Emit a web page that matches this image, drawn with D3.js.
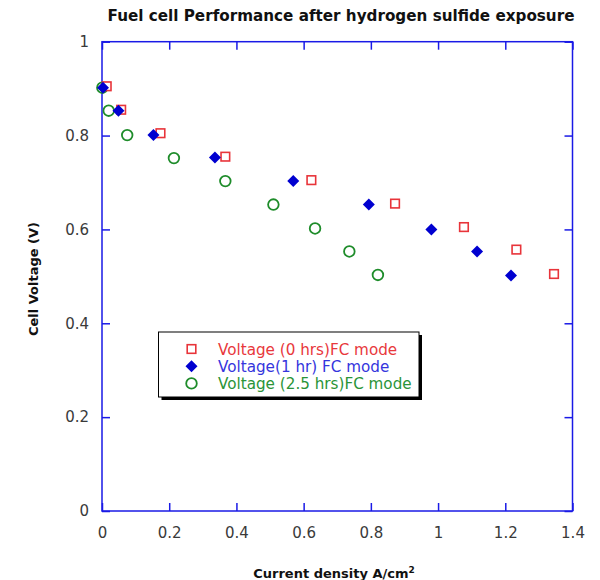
<!DOCTYPE html>
<html>
<head>
<meta charset="utf-8">
<script src="https://cdn.jsdelivr.net/npm/d3@7"></script>
<style>
  html, body { margin: 0; padding: 0; background: #fff; }
  svg { display: block; }
</style>
</head>
<body>
<svg id="chart" width="600" height="580"></svg>
<script>
// Current density (A/cm²) and cell voltage (V) for each exposure time
const current0h  = [0.014, 0.057, 0.174, 0.367, 0.623, 0.872, 1.077, 1.233, 1.345];
const voltage0h  = [0.905, 0.855, 0.805, 0.755, 0.705, 0.655, 0.605, 0.557, 0.505];
const current1h  = [0.003, 0.049, 0.153, 0.336, 0.569, 0.794, 0.980, 1.116, 1.217];
const voltage1h  = [0.902, 0.853, 0.801, 0.753, 0.703, 0.653, 0.600, 0.553, 0.502];
const current25h = [0.001, 0.020, 0.075, 0.214, 0.367, 0.510, 0.634, 0.736, 0.821];
const voltage25h = [0.902, 0.853, 0.801, 0.752, 0.703, 0.653, 0.602, 0.553, 0.503];

const seriesNames = ["Voltage (0 hrs)FC mode", "Voltage(1 hr) FC mode", "Voltage (2.5 hrs)FC mode"];
const xTicks = [0, 0.2, 0.4, 0.6, 0.8, 1, 1.2, 1.4];
const yTicks = [0, 0.2, 0.4, 0.6, 0.8, 1];

const series = [
  { name: seriesNames[0], xs: current0h,  ys: voltage0h,  shape: "square",  color: "#e8343a", text: "#e8383c" },
  { name: seriesNames[1], xs: current1h,  ys: voltage1h,  shape: "diamond", color: "#0000d0", text: "#3535dd" },
  { name: seriesNames[2], xs: current25h, ys: voltage25h, shape: "circle",  color: "#1e8c2a", text: "#2a9438" }
];

const svg = d3.select("#chart");
const plotLeft = 102, plotRight = 572.5, plotTop = 41.7, plotBottom = 511;
const x = d3.scaleLinear().domain([0, 1.4]).range([plotLeft, plotRight]);
const y = d3.scaleLinear().domain([0, 1]).range([plotBottom, plotTop]);

const axisColor = "#1a1ae6";
const tickLen = 8;
const fmt = d => d3.format("")(d);
const font = "'DejaVu Sans', Verdana, sans-serif";

// Plot frame
svg.append("rect")
  .attr("x", plotLeft).attr("y", plotTop)
  .attr("width", plotRight - plotLeft).attr("height", plotBottom - plotTop)
  .attr("fill", "none").attr("stroke", axisColor).attr("stroke-width", 1.5);

// Axes with inward ticks on all four sides
function styleAxis(g) {
  g.select(".domain").remove();
  g.selectAll(".tick line").attr("stroke", axisColor).attr("stroke-width", 1.5);
  g.selectAll(".tick text")
    .attr("fill", "#3a3a3a")
    .style("font-family", font)
    .style("font-size", "15px");
}

svg.append("g").attr("transform", `translate(0,${plotBottom})`)
  .call(d3.axisBottom(x).tickValues(xTicks).tickFormat(fmt).tickSizeInner(-tickLen).tickSizeOuter(0).tickPadding(16))
  .call(styleAxis);
svg.append("g").attr("transform", `translate(0,${plotTop})`)
  .call(d3.axisTop(x).tickValues(xTicks).tickFormat("").tickSizeInner(-tickLen).tickSizeOuter(0))
  .call(styleAxis);
svg.append("g").attr("transform", `translate(${plotLeft},0)`)
  .call(d3.axisLeft(y).tickValues(yTicks).tickFormat(fmt).tickSizeInner(-tickLen).tickSizeOuter(0).tickPadding(13))
  .call(styleAxis);
svg.append("g").attr("transform", `translate(${plotRight},0)`)
  .call(d3.axisRight(y).tickValues(yTicks).tickFormat("").tickSizeInner(-tickLen).tickSizeOuter(0))
  .call(styleAxis);

// Marker drawing
function drawMarker(g, shape, color) {
  if (shape === "square") {
    g.append("rect").attr("x", -4.3).attr("y", -4.3).attr("width", 8.6).attr("height", 8.6)
      .attr("fill", "#fff").attr("stroke", color).attr("stroke-width", 1.6);
  } else if (shape === "diamond") {
    g.append("path").attr("d", "M0,-6 L6,0 L0,6 L-6,0 Z").attr("fill", color);
  } else {
    g.append("circle").attr("r", 5.3).attr("fill", "none").attr("stroke", color).attr("stroke-width", 1.8);
  }
}

const plot = svg.append("g");
// Green circles first, then red squares, blue diamonds on top
[series[2], series[0], series[1]].forEach(s => {
  s.xs.forEach((cx, i) => {
    const g = plot.append("g").attr("transform", `translate(${x(cx)},${y(s.ys[i])})`);
    drawMarker(g, s.shape, s.color);
  });
});

// Title
svg.append("text")
  .attr("x", 341).attr("y", 21)
  .attr("text-anchor", "middle")
  .style("font-family", font)
  .style("font-weight", "bold")
  .style("font-size", "15.2px")
  .attr("fill", "#111")
  .text("Fuel cell Performance after hydrogen sulfide exposure");

// Axis titles
const xLabel = svg.append("text")
  .attr("x", 334).attr("y", 578)
  .attr("text-anchor", "middle")
  .style("font-family", font)
  .style("font-weight", "bold")
  .style("font-size", "13px")
  .attr("fill", "#111");
xLabel.append("tspan").text("Current density A/cm");
xLabel.append("tspan").attr("dy", -5).style("font-size", "9px").text("2");

svg.append("text")
  .attr("transform", "translate(38,279) rotate(-90)")
  .attr("text-anchor", "middle")
  .style("font-family", font)
  .style("font-weight", "bold")
  .style("font-size", "13px")
  .attr("fill", "#111")
  .text("Cell Voltage (V)");

// Legend with drop shadow
const lg = { x: 158.5, y: 332, w: 260.5, h: 65 };
svg.append("rect").attr("x", lg.x + 3).attr("y", lg.y + 3).attr("width", lg.w).attr("height", lg.h).attr("fill", "#000");
svg.append("rect").attr("x", lg.x).attr("y", lg.y).attr("width", lg.w).attr("height", lg.h)
  .attr("fill", "#fff").attr("stroke", "#000").attr("stroke-width", 1);

series.forEach((s, i) => {
  const cy = 349 + i * 17.2;
  const g = svg.append("g").attr("transform", `translate(191.5,${cy})`);
  drawMarker(g, s.shape, s.color);
  svg.append("text")
    .attr("x", 218).attr("y", cy + 5.5)
    .style("font-family", font)
    .style("font-size", "15.2px")
    .attr("fill", s.text)
    .text(s.name);
});
</script>
</body>
</html>
